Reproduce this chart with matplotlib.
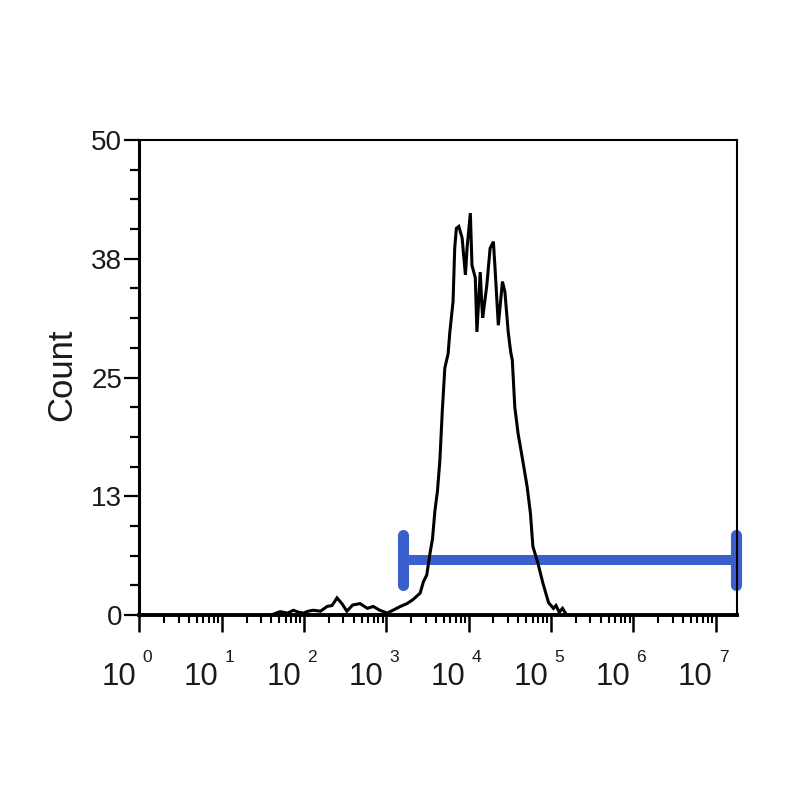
import numpy as np
import matplotlib
matplotlib.use("Agg")
import matplotlib.pyplot as plt
from matplotlib import font_manager as fm
from matplotlib.transforms import blended_transform_factory, ScaledTranslation
from matplotlib.ticker import FixedLocator, LogLocator, NullFormatter, FixedFormatter

# ---- data ----
hist_log10 = [1.60, 1.71, 1.80, 1.87, 1.93, 1.99, 2.05, 2.11, 2.20, 2.28, 2.34, 2.40,
              2.46, 2.52, 2.59, 2.68, 2.77, 2.84, 2.92, 3.01, 3.08, 3.17, 3.25, 3.32,
              3.41, 3.45, 3.49, 3.53, 3.56, 3.59, 3.62, 3.65, 3.68, 3.71, 3.75, 3.77,
              3.81, 3.83, 3.85, 3.88, 3.92, 3.96, 3.98, 4.02, 4.04, 4.08, 4.10, 4.14,
              4.16, 4.17, 4.22, 4.26, 4.30, 4.32, 4.36, 4.41, 4.44, 4.48, 4.51, 4.53,
              4.56, 4.60, 4.65, 4.71, 4.75, 4.78, 4.84, 4.90, 4.97, 5.03, 5.06, 5.10,
              5.14, 5.19]
hist_count = [0.0, 0.35, 0.2, 0.5, 0.3, 0.2, 0.4, 0.5, 0.4, 0.9, 1.0, 1.8,
              1.2, 0.4, 1.05, 1.2, 0.7, 0.9, 0.5, 0.2, 0.5, 0.9, 1.2, 1.6,
              2.3, 3.5, 4.2, 6.5, 8.0, 11.0, 13.0, 16.3, 21.6, 26.0, 27.5, 29.7,
              33.0, 38.6, 40.7, 40.9, 39.7, 35.8, 38.6, 42.3, 36.8, 35.5, 29.8, 36.1,
              32.6, 31.3, 34.7, 38.6, 39.3, 36.5, 30.5, 35.1, 34.0, 29.8, 27.7, 26.8,
              21.9, 19.1, 16.6, 13.5, 10.7, 7.2, 5.5, 3.4, 1.3, 0.7, 1.0, 0.3,
              0.7, 0.0]

gate_log10 = [3.2, 7.25]
gate_y = 5.8
gate_cap = [3.2, 8.4]

ytick_values = [0, 12.5, 25, 37.5, 50]
ytick_labels = ["0", "13", "25", "38", "50"]
xdecades = [0, 1, 2, 3, 4, 5, 6, 7]
ylabel = "Count"

# ---- fonts ----
names = {f.name for f in fm.fontManager.ttflist}
base_font = "Liberation Sans" if "Liberation Sans" in names else "DejaVu Sans"
narrow_font = "Liberation Sans Narrow" if "Liberation Sans Narrow" in names else base_font
plt.rcParams["font.family"] = [base_font, "DejaVu Sans"]

fig = plt.figure(figsize=(8, 8), dpi=100)
ax = fig.add_axes([0.1743, 0.23125, 0.747, 0.59375])

# histogram
hx = 10 ** np.array(hist_log10)
ax.plot(hx, hist_count, color="black", lw=2.2, zorder=3, solid_joinstyle="miter")

# gate
blue = "#3c5fd0"
gx = 10 ** np.array(gate_log10)
ax.plot(gx, [gate_y, gate_y], color=blue, lw=7.2, solid_capstyle="butt", zorder=2, clip_on=False)
for g in gx:
    ax.plot([g, g], gate_cap, color=blue, lw=8, solid_capstyle="round", zorder=2, clip_on=False)

ax.set_xscale("log")
ax.set_xlim(1, 10 ** 7.26)
ax.set_ylim(0, 50)

# y ticks
ax.yaxis.set_major_locator(FixedLocator(ytick_values))
ax.yaxis.set_major_formatter(FixedFormatter(ytick_labels))
ax.yaxis.set_minor_locator(FixedLocator(np.arange(0, 50.01, 3.125)))
ax.tick_params(axis="y", which="major", length=11, width=1.6, labelsize=20, pad=1.5,
               direction="out", labelcolor="#1a1a1a")
ax.tick_params(axis="y", which="minor", length=6.5, width=1.6, direction="out")

# x ticks
ax.xaxis.set_major_locator(FixedLocator([10.0 ** d for d in xdecades]))
ax.xaxis.set_minor_locator(LogLocator(base=10, subs=np.arange(2, 10), numticks=50))
ax.xaxis.set_major_formatter(NullFormatter())
ax.xaxis.set_minor_formatter(NullFormatter())
ax.tick_params(axis="x", which="major", length=12, width=1.8, direction="out")
ax.tick_params(axis="x", which="minor", length=6, width=1.5, direction="out")

for side, lw in [("left", 2.2), ("bottom", 2.8), ("top", 1.5), ("right", 1.5)]:
    ax.spines[side].set_linewidth(lw)

# x tick labels as 10 + superscript
narrow = narrow_font != base_font
ten_size = 25 if narrow else 22.5
trans = blended_transform_factory(ax.transData, ax.transAxes)
for d in xdecades:
    x = 10.0 ** d
    ax.text(x, 0, "10", transform=trans + ScaledTranslation(-3 / 100, -70 / 100, fig.dpi_scale_trans),
            ha="right", va="baseline", fontsize=ten_size, family=[narrow_font, "DejaVu Sans"],
            color="#1a1a1a")
    ax.text(x, 0, str(d), transform=trans + ScaledTranslation(3 / 100, -47 / 100, fig.dpi_scale_trans),
            ha="left", va="baseline", fontsize=12.5, family=[narrow_font, "DejaVu Sans"],
            color="#1a1a1a")

fig.text(62 / 800, 1 - 375 / 800, ylabel, rotation=90, ha="center", va="center", fontsize=25,
         color="#1a1a1a")

fig.savefig("out.png", dpi=100)
